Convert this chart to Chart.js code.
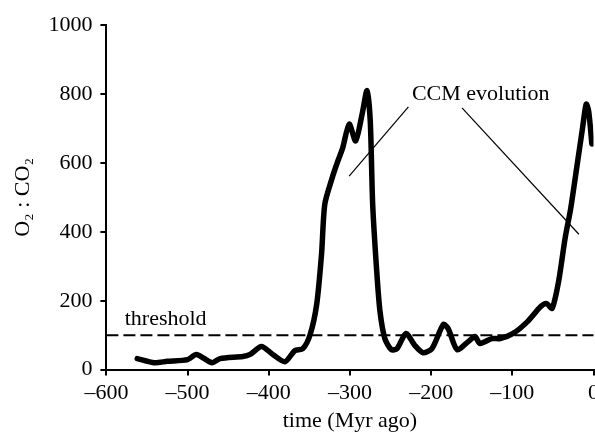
<!DOCTYPE html>
<html>
<head>
<meta charset="utf-8">
<script src="https://cdn.jsdelivr.net/npm/chart.js@4/dist/chart.umd.min.js"></script>
<style>
  html, body { margin: 0; padding: 0; background: #fff; overflow: hidden; }
  #wrap { width: 603px; height: 428px; margin-top: 4px; }
</style>
</head>
<body>
<div id="wrap"><canvas id="canvas"></canvas></div>
<script>
// time (Myr ago) and O2:CO2 ratio
var times = [-562, -541, -525, -500, -489, -470, -460, -432, -423, -409, -395, -380,
  -368, -358, -349, -341, -335, -331, -322, -315, -309, -301, -293, -285, -279,
  -275, -272, -267, -263, -257, -249, -242, -231, -220, -210, -199, -185, -179,
  -168, -154, -146, -140, -125, -115, -99, -81, -65, -58, -51, -43, -35, -28,
  -20, -14, -9, -6, -2];
var ratios = [32, 20, 24, 29, 44, 20, 32, 38, 44, 67, 44, 23,
  55, 61, 102, 189, 335, 480, 556, 605, 643, 713, 664, 742, 810,
  722, 480, 285, 169, 90, 58, 61, 105, 70, 49, 61, 131, 119,
  58, 82, 96, 76, 90, 90, 105, 140, 183, 192, 178, 256, 381, 469,
  597, 693, 771, 751, 655];

var xTicks = [-600, -500, -400, -300, -200, -100, 0];
var yTicks = [0, 200, 400, 600, 800, 1000];

var threshold = 100;
// annotation pointer lines, in data units [x1, y1, x2, y2]
var ccmLines = [[-228, 763, -301, 562], [-162, 760, -18, 393]];
var ccmLabel = {text: 'CCM evolution', x: -139, y: 800};
var thresholdLabel = {text: 'threshold', x: -527, y: 146};

var serif = "'Liberation Serif', 'Times New Roman', serif";

var points = [];
for (var i = 0; i < times.length; i++) {
  points.push({x: times[i], y: ratios[i]});
}

var extras = {
  id: 'extras',
  afterDatasetsDraw: function(chart) {
    var ctx = chart.ctx;
    var xs = chart.scales.x, ys = chart.scales.y;
    ctx.save();
    // threshold line
    ctx.strokeStyle = '#000';
    ctx.lineWidth = 2;
    ctx.setLineDash([12, 5]);
    ctx.beginPath();
    ctx.moveTo(xs.getPixelForValue(-600), ys.getPixelForValue(threshold));
    ctx.lineTo(xs.getPixelForValue(0), ys.getPixelForValue(threshold));
    ctx.stroke();
    ctx.setLineDash([]);
    // pointer lines
    ctx.lineWidth = 1.2;
    ccmLines.forEach(function(l) {
      ctx.beginPath();
      ctx.moveTo(xs.getPixelForValue(l[0]), ys.getPixelForValue(l[1]));
      ctx.lineTo(xs.getPixelForValue(l[2]), ys.getPixelForValue(l[3]));
      ctx.stroke();
    });
    ctx.fillStyle = '#000';
    ctx.font = '22px ' + serif;
    ctx.textAlign = 'center';
    ctx.textBaseline = 'middle';
    ctx.fillText(ccmLabel.text, xs.getPixelForValue(ccmLabel.x), ys.getPixelForValue(ccmLabel.y));
    ctx.fillText(thresholdLabel.text, xs.getPixelForValue(thresholdLabel.x), ys.getPixelForValue(thresholdLabel.y));
    ctx.restore();
  }
};

var ctx = document.getElementById('canvas').getContext('2d');
var myChart = new Chart(ctx, {
  type: 'line',
  data: {
    datasets: [{
      data: points,
      borderColor: '#000',
      backgroundColor: 'transparent',
      borderWidth: 5.5,
      pointRadius: 0,
      tension: 0.25,
      borderJoinStyle: 'round',
      borderCapStyle: 'round'
    }]
  },
  options: {
    responsive: true,
    maintainAspectRatio: false,
    animation: false,
    layout: { padding: { top: 21, left: 10, bottom: 0 } },
    plugins: { legend: { display: false }, tooltip: { enabled: false } },
    scales: {
      x: {
        type: 'linear',
        min: -600,
        max: 0,
        afterBuildTicks: function(s) { s.ticks = xTicks.map(function(v) { return {value: v}; }); },
        ticks: {
          color: '#000',
          padding: 4,
          maxRotation: 0,
          font: { family: serif, size: 22 },
          callback: function(v) { return String(v).replace('-', '\u2013'); }
        },
        grid: { drawOnChartArea: false, drawTicks: true, tickLength: 6, color: '#000', lineWidth: 2 },
        border: { color: '#000', width: 2 },
        title: { display: true, text: 'time (Myr ago)', color: '#000', font: { family: serif, size: 22, lineHeight: 1.0 }, padding: { top: 0, bottom: 0 } }
      },
      y: {
        min: 0,
        max: 1000,
        afterBuildTicks: function(s) { s.ticks = yTicks.map(function(v) { return {value: v}; }); },
        ticks: {
          color: '#000',
          padding: 8,
          font: { family: serif, size: 22 },
          callback: function(v) { return String(v); }
        },
        grid: { drawOnChartArea: false, drawTicks: true, tickLength: 6, color: '#000', lineWidth: 2 },
        border: { color: '#000', width: 2 },
        title: { display: true, text: 'O\u2082 : CO\u2082', color: '#000', font: { family: serif, size: 22 }, padding: { top: 0, bottom: 4 } }
      }
    }
  },
  plugins: [extras]
});
</script>
</body>
</html>
